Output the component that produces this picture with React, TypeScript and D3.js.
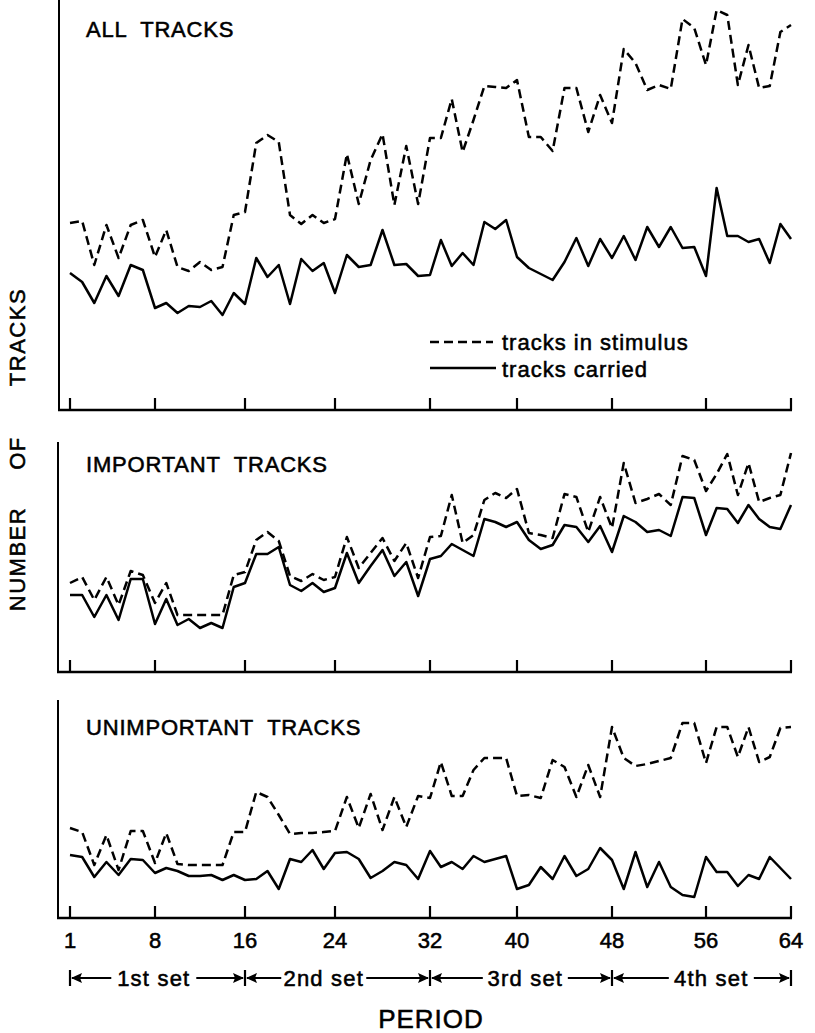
import React from "react";
import * as d3 from "d3";

// periods 1..64, heights above each panel's baseline (figure units)
const periods = d3.range(1, 65);
const periodTicks = [1, 8, 16, 24, 32, 40, 48, 56, 64];
const setBounds = [1, 16, 32, 48, 64];
const setNames = ["1st set", "2nd set", "3rd set", "4th set"];
const setLabelAt = [7.9, 23, 40.7, 56.5];

const allStimulus = [
  187, 189, 145, 185, 152, 185, 190, 153, 180, 143, 139, 148, 140, 143, 195, 198,
  267, 275, 268, 195, 186, 195, 187, 191, 256, 206, 250, 276, 205, 264, 206, 272,
  272, 311, 258, 290, 324, 323, 322, 330, 273, 273, 259, 322, 322, 278, 315, 287,
  361, 347, 320, 325, 321, 391, 382, 345, 400, 395, 325, 365, 322, 324, 378, 385,
];
const allCarried = [
  137, 128, 107, 134, 114, 145, 140, 102, 107, 97, 104, 103, 109, 95, 117, 106,
  152, 133, 145, 106, 151, 139, 147, 117, 155, 143, 145, 180, 145, 146, 134, 135,
  170, 144, 157, 145, 188, 181, 190, 153, 142, 136, 130, 148, 172, 144, 171, 152,
  174, 150, 183, 163, 183, 162, 163, 134, 222, 174, 174, 168, 171, 147, 186, 171,
];
const impStimulus = [
  89, 95, 72, 95, 67, 101, 97, 69, 89, 57, 57, 57, 57, 57, 97, 100,
  132, 140, 131, 96, 91, 98, 92, 95, 135, 104, 119, 134, 111, 129, 94, 135,
  136, 177, 129, 137, 172, 179, 174, 183, 139, 137, 134, 178, 175, 140, 175, 144,
  209, 169, 173, 178, 167, 216, 212, 181, 198, 218, 177, 209, 170, 174, 177, 219,
];
const impCarried = [
  77, 77, 55, 77, 52, 93, 93, 48, 73, 47, 53, 44, 49, 44, 85, 89,
  118, 118, 125, 87, 81, 89, 80, 84, 119, 89, 106, 122, 96, 110, 76, 113,
  116, 128, 122, 116, 153, 150, 145, 150, 132, 123, 127, 147, 145, 130, 146, 120,
  156, 150, 140, 142, 136, 175, 174, 137, 164, 163, 149, 167, 153, 145, 143, 167,
];
const unStimulus = [
  90, 86, 53, 83, 48, 87, 87, 55, 85, 54, 53, 53, 53, 53, 86, 86,
  126, 121, 103, 84, 85, 85, 86, 87, 121, 90, 124, 88, 121, 91, 122, 120,
  156, 122, 122, 148, 160, 160, 160, 122, 123, 120, 158, 151, 121, 153, 121, 191,
  160, 152, 154, 157, 160, 195, 195, 155, 191, 191, 161, 191, 156, 161, 190, 191,
];
const unCarried = [
  63, 61, 41, 56, 43, 59, 58, 45, 50, 47, 42, 42, 43, 38, 43, 38,
  39, 47, 29, 59, 56, 68, 49, 65, 66, 59, 40, 47, 56, 53, 39, 67,
  51, 56, 49, 62, 56, 59, 62, 29, 33, 51, 39, 62, 42, 49, 70, 58,
  29, 66, 31, 56, 31, 23, 21, 61, 46, 46, 32, 43, 39, 61, 50, 39,
];

const FONT = "'Liberation Sans', Arial, Helvetica, sans-serif";
const DASH = "9,5";
const INK = 0.55; // thickens lettering a little, like the hand lettering

const panels = [
  { title: "ALL  TRACKS", stim: allStimulus, carried: allCarried, top: 0, base: 410, axisX: 59, titleY: 37 },
  { title: "IMPORTANT  TRACKS", stim: impStimulus, carried: impCarried, top: 442, base: 672, axisX: 58, titleY: 472 },
  { title: "UNIMPORTANT  TRACKS", stim: unStimulus, carried: unCarried, top: 700, base: 918, axisX: 58, titleY: 735 },
];

const App: React.FC = () => {
  const width = 815;
  const height = 1033;

  // the drawn axis is not evenly spaced, so the scale follows its ticks
  const x = d3
    .scaleLinear()
    .domain(periodTicks)
    .range([70, 155, 245, 335, 430, 517, 612, 706, 791]);

  const arrowY = 978;

  return (
    <svg
      width={width}
      height={height}
      style={{ position: "absolute", left: 0, top: 0, background: "#fff" }}
      fontFamily={FONT}
    >
      {panels.map((p, pi) => {
        const y = d3.scaleLinear().domain([0, p.base - p.top]).range([p.base, p.top]);
        const line = d3
          .line<number>()
          .x((_, i) => x(periods[i]))
          .y((d) => y(d));
        return (
          <g key={pi}>
            {/* axes */}
            <line x1={p.axisX} x2={p.axisX} y1={p.top} y2={p.base + 1} stroke="#000" strokeWidth={2} />
            <line x1={p.axisX - 1} x2={792} y1={p.base} y2={p.base} stroke="#000" strokeWidth={2.4} />
            {periodTicks.map((t) => (
              <line key={t} x1={x(t)} x2={x(t)} y1={p.base} y2={p.base - 12} stroke="#000" strokeWidth={2.2} />
            ))}

            <text x={86} y={p.titleY} fontSize={22} letterSpacing={0.8} style={{ whiteSpace: "pre" }} stroke="#000" strokeWidth={INK}>
              {p.title}
            </text>

            <path d={line(p.stim) || ""} fill="none" stroke="#000" strokeWidth={2.5} strokeDasharray={DASH} strokeLinejoin="round" />
            <path d={line(p.carried) || ""} fill="none" stroke="#000" strokeWidth={2.5} strokeLinejoin="round" />
          </g>
        );
      })}

      {/* legend */}
      <g>
        <line x1={430} x2={493} y1={342} y2={342} stroke="#000" strokeWidth={2.5} strokeDasharray={DASH} />
        <text x={502} y={350} fontSize={22} letterSpacing={1} stroke="#000" strokeWidth={INK}>
          tracks in stimulus
        </text>
        <line x1={430} x2={496} y1={368} y2={368} stroke="#000" strokeWidth={2.5} />
        <text x={502} y={377} fontSize={22} letterSpacing={1} stroke="#000" strokeWidth={INK}>
          tracks carried
        </text>
      </g>

      {/* y title */}
      {[
        { t: "TRACKS", c: 337 },
        { t: "OF", c: 453 },
        { t: "NUMBER", c: 559 },
      ].map((w) => (
        <text
          key={w.t}
          transform={`translate(25,${w.c}) rotate(-90)`}
          textAnchor="middle"
          fontSize={22}
          letterSpacing={1.5}
          stroke="#000"
          strokeWidth={INK}
        >
          {w.t}
        </text>
      ))}

      {/* period labels */}
      {periodTicks.map((t) => (
        <text key={t} x={x(t)} y={948} textAnchor="middle" fontSize={22} stroke="#000" strokeWidth={INK}>
          {t}
        </text>
      ))}

      {/* set brackets */}
      {setNames.map((name, i) => {
        const x0 = x(setBounds[i]);
        const x1 = x(setBounds[i + 1]);
        const cx = x(setLabelAt[i]);
        const w = name.length * 11 + 8;
        return (
          <g key={name}>
            <line x1={x0 + 2} x2={x1 - 2} y1={arrowY} y2={arrowY} stroke="#000" strokeWidth={2.2} />
            <path d={`M${x0 + 1},${arrowY} l11,-5 l-2,5 l2,5 Z`} fill="#000" />
            <path d={`M${x1 - 1},${arrowY} l-11,-5 l2,5 l-2,5 Z`} fill="#000" />
            <rect x={cx - w / 2} y={arrowY - 14} width={w} height={26} fill="#fff" />
            <text x={cx} y={986} textAnchor="middle" fontSize={22} letterSpacing={1.2} stroke="#000" strokeWidth={INK}>
              {name}
            </text>
          </g>
        );
      })}
      {setBounds.map((b) => (
        <line key={b} x1={x(b)} x2={x(b)} y1={arrowY - 8} y2={arrowY + 8} stroke="#000" strokeWidth={2.2} />
      ))}

      <text x={431} y={1028} textAnchor="middle" fontSize={26} letterSpacing={1} stroke="#000" strokeWidth={INK}>
        PERIOD
      </text>
    </svg>
  );
};

export default App;
